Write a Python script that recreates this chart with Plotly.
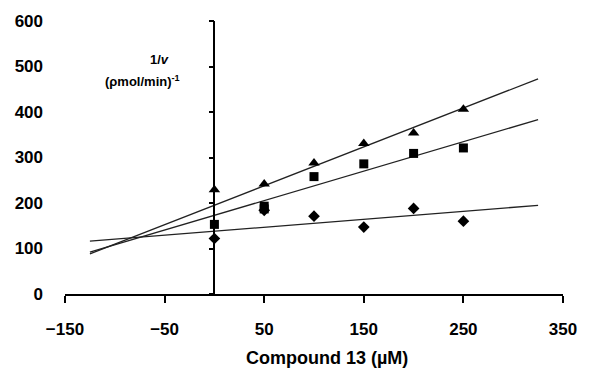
import numpy as np
import plotly.graph_objects as go

# Data
conc = [0, 50, 100, 150, 200, 250]
tri_vals = [229, 242, 288, 331, 354, 406]
sq_vals = [153, 193, 258, 286, 309, 321]
sq_extra_x = [50]
sq_extra_vals = [187]
dia_vals = [122, 184, 171, 147, 188, 160]

# Fitted line parameters (slope, intercept) and x extent
fit_slopes = [0.855, 0.647, 0.175]
fit_intercepts = [195, 173, 138]
fit_x = [-125, 325]

x_ticks = [-150, -50, 50, 150, 250, 350]
y_ticks = [0, 100, 200, 300, 400, 500, 600]

x_title = "Compound 13 (µM)"
y_title_1 = "1/<i>v</i>"
y_title_2 = "(ρmol/min)<sup>-1</sup>"

FONT = "Liberation Sans"

fig = go.Figure()

xs = np.array(fit_x, dtype=float)
for m, b in zip(fit_slopes, fit_intercepts):
    fig.add_trace(go.Scatter(x=xs, y=m * xs + b, mode="lines",
                             line=dict(color="#222222", width=1.3),
                             showlegend=False, hoverinfo="skip"))

fig.add_trace(go.Scatter(x=conc, y=tri_vals, mode="markers",
                         marker=dict(symbol="triangle-up", size=10, color="black"),
                         showlegend=False))
fig.add_trace(go.Scatter(x=conc + sq_extra_x, y=sq_vals + sq_extra_vals, mode="markers",
                         marker=dict(symbol="square", size=9, color="black"),
                         showlegend=False))
fig.add_trace(go.Scatter(x=conc, y=dia_vals, mode="markers",
                         marker=dict(symbol="diamond", size=9, color="black"),
                         showlegend=False))

# Vertical axis drawn at x = 0 (second overlaying axis without labels)
fig.add_trace(go.Scatter(x=[0], y=[0], yaxis="y2", mode="markers",
                         marker=dict(size=1, opacity=0), showlegend=False,
                         hoverinfo="skip"))

fig.update_layout(
    width=589, height=374,
    margin=dict(l=65, r=20, t=20, b=80),
    paper_bgcolor="white", plot_bgcolor="white",
    font=dict(family=FONT, color="black"),
    hovermode=False,
    xaxis=dict(range=[-150, 350], tickvals=x_ticks, showgrid=False, zeroline=False,
               showline=True, linecolor="black", linewidth=1.5,
               ticks="outside", ticklen=7, tickwidth=1.5, tickcolor="black",
               ticklabelstandoff=12, ticklabeloverflow="allow",
               tickfont=dict(family=FONT, size=17, color="black", weight="bold")),
    yaxis=dict(range=[0, 600], tickvals=y_ticks, showgrid=False, zeroline=False,
               showline=False, ticks="", ticklabelstandoff=21,
               tickfont=dict(family=FONT, size=17, color="black", weight="bold")),
    yaxis2=dict(range=[0, 600], tickvals=y_ticks, overlaying="y", anchor="free",
                position=150 / 500, side="left", showgrid=False, zeroline=False,
                showline=True, linecolor="black", linewidth=1.5,
                ticks="outside", ticklen=5, tickwidth=1.5, tickcolor="black",
                showticklabels=False),
    annotations=[
        dict(x=113, y=0, xref="x", yref="paper", yshift=-64, showarrow=False,
             text=x_title, yanchor="middle",
             font=dict(family=FONT, size=18, color="black", weight="bold")),
        dict(x=-55, y=516, xref="x", yref="y", showarrow=False,
             text=y_title_1,
             font=dict(family=FONT, size=13, color="black", weight="bold")),
        dict(x=-72, y=468, xref="x", yref="y", showarrow=False,
             text=y_title_2,
             font=dict(family=FONT, size=13, color="black", weight="bold")),
    ],
)

# Remove the default page margin so the figure fills the window exactly.
fig.write_html("out.html", config={"displayModeBar": False},
               post_script="document.body.style.margin='0';")
